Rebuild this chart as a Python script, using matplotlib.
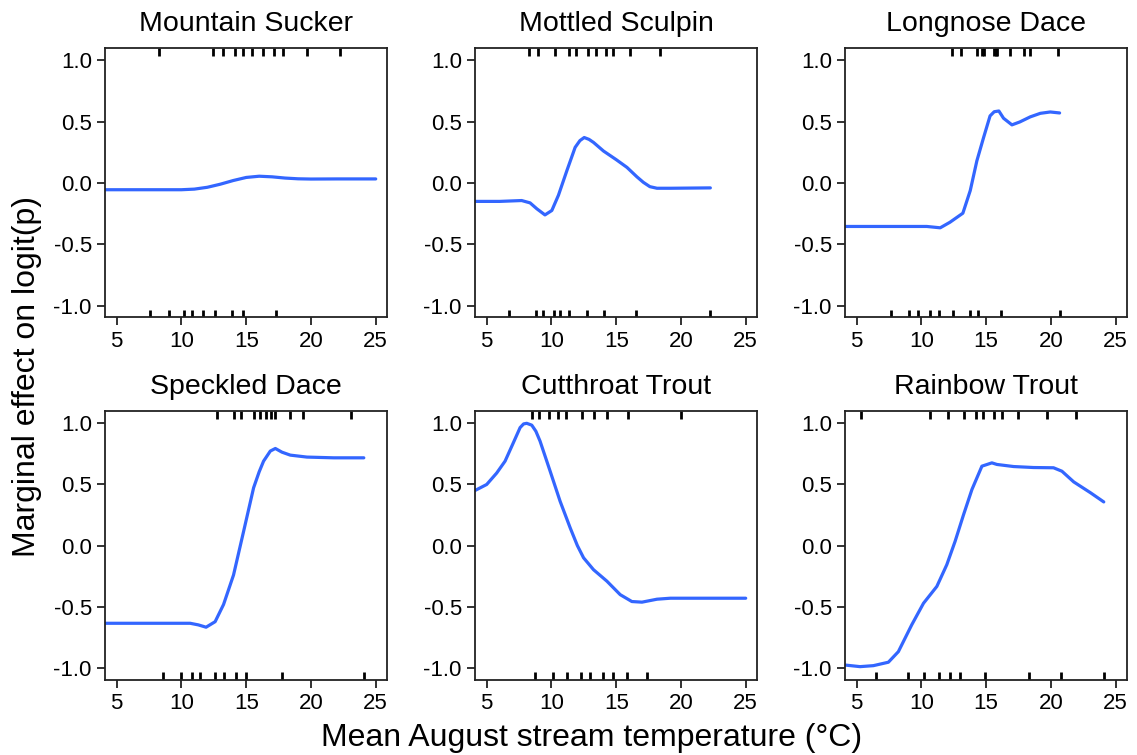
import matplotlib
matplotlib.use('Agg')
import matplotlib.pyplot as plt

plt.rcParams['font.family'] = ['Liberation Sans', 'DejaVu Sans']
plt.rcParams['axes.unicode_minus'] = False

# species shown, in panel order
species = ['Mountain Sucker', 'Mottled Sculpin', 'Longnose Dace',
           'Speckled Dace', 'Cutthroat Trout', 'Rainbow Trout']

# marginal effect curves (temperature, effect on logit(p))
sucker_x = [4.1, 6, 8, 10, 11, 12, 13, 14, 15, 16, 17, 18, 19, 20, 22, 25]
sucker_y = [-0.055, -0.055, -0.055, -0.055, -0.05, -0.035, -0.01, 0.02, 0.045,
            0.055, 0.05, 0.04, 0.034, 0.032, 0.033, 0.033]

sculpin_x = [4.1, 6, 7.7, 8.35, 8.87, 9.5, 10.03, 10.54, 11.19, 11.83, 12.2,
             12.53, 12.9, 13.25, 14.02, 15.0, 15.83, 16.6, 17.1, 17.6, 18.15,
             19.2, 22.27]
sculpin_y = [-0.15, -0.15, -0.143, -0.162, -0.21, -0.26, -0.224, -0.1, 0.1,
             0.29, 0.345, 0.37, 0.355, 0.33, 0.26, 0.19, 0.127, 0.05, 0.005,
             -0.03, -0.043, -0.043, -0.04]

dace_x = [4.1, 8, 10.41, 11.45, 12.2, 13.2, 13.77, 14.28, 14.8, 15.3, 15.62,
          15.98, 16.34, 16.99, 17.6, 18.4, 19.18, 19.95, 20.67]
dace_y = [-0.354, -0.354, -0.354, -0.365, -0.32, -0.246, -0.062, 0.18, 0.37,
          0.546, 0.58, 0.586, 0.527, 0.473, 0.497, 0.538, 0.567, 0.578, 0.57]

speckled_x = [4.1, 8, 10.67, 11.3, 11.9, 12.6, 13.25, 14.02, 14.8, 15.57, 16.0,
              16.34, 16.86, 17.25, 17.76, 18.4, 19.69, 21.76, 24.08]
speckled_y = [-0.633, -0.633, -0.633, -0.646, -0.665, -0.62, -0.48, -0.24,
              0.116, 0.47, 0.6, 0.687, 0.769, 0.79, 0.76, 0.736, 0.72, 0.714,
              0.714]

cutthroat_x = [4.1, 5, 5.77, 6.42, 7.06, 7.58, 7.85, 8.09, 8.48, 8.8, 9.12, 9.9,
               10.67, 11.45, 12.0, 12.48, 13.25, 14.28, 15.31, 16.21, 16.99,
               18.15, 19.18, 21.76, 25]
cutthroat_y = [0.448, 0.497, 0.59, 0.687, 0.837, 0.96, 0.99, 0.995, 0.98, 0.93,
               0.85, 0.605, 0.36, 0.143, 0.0, -0.1, -0.197, -0.29, -0.4, -0.456,
               -0.461, -0.437, -0.429, -0.429, -0.429]

rainbow_x = [4.1, 5.26, 6.29, 7.45, 8.22, 9.25, 10.16, 11.19, 11.96, 12.6, 13.25,
             13.9, 14.67, 15.44, 15.83, 17.12, 18.66, 20.2, 20.85, 21.76, 23.05,
             24.08]
rainbow_y = [-0.973, -0.986, -0.978, -0.95, -0.864, -0.646, -0.47, -0.333,
             -0.156, 0.034, 0.25, 0.456, 0.646, 0.673, 0.66, 0.643, 0.635,
             0.633, 0.605, 0.518, 0.43, 0.355]

# rug marks: sites where present (top) / absent (bottom)
sucker_top = [8.30, 12.42, 13.20, 14.15, 14.72, 15.44, 16.29, 17.14, 17.86, 19.69, 22.27]
sucker_bot = [7.58, 9.0, 10.16, 10.83, 11.65, 12.6, 13.89, 14.74, 17.30]
sculpin_top = [8.30, 9.0, 10.28, 11.39, 11.91, 12.79, 13.46, 14.23, 14.72, 16.09, 18.35]
sculpin_bot = [6.73, 8.82, 9.38, 10.16, 10.67, 11.39, 12.73, 14.02, 16.55, 22.27]
dace_top = [12.35, 13.04, 14.28, 14.67, 14.85, 15.62, 15.75, 15.83, 16.86, 17.89, 18.35, 20.52]
dace_bot = [7.63, 9.05, 9.72, 10.67, 11.34, 12.42, 13.77, 14.36, 16.11, 20.67]
speckled_top = [12.73, 14.02, 14.59, 15.62, 16.09, 16.52, 16.94, 17.24, 18.35, 19.36, 23.12]
speckled_bot = [8.61, 9.95, 10.8, 11.45, 12.6, 13.25, 14.2, 14.98, 17.76, 24.13]
cutthroat_top = [8.48, 9.05, 9.82, 10.49, 11.14, 12.35, 13.3, 14.28, 15.88, 20.03]
cutthroat_bot = [8.74, 10.1, 11.19, 12.3, 12.99, 13.97, 14.74, 15.83, 17.37]
rainbow_top = [5.31, 10.67, 12.09, 13.3, 14.23, 14.75, 15.62, 16.21, 17.45, 19.69, 21.96]
rainbow_bot = [6.47, 9.0, 10.23, 11.32, 12.22, 12.99, 14.93, 18.33, 20.78, 24.13]

panels = [
    (sucker_x, sucker_y, sucker_top, sucker_bot),
    (sculpin_x, sculpin_y, sculpin_top, sculpin_bot),
    (dace_x, dace_y, dace_top, dace_bot),
    (speckled_x, speckled_y, speckled_top, speckled_bot),
    (cutthroat_x, cutthroat_y, cutthroat_top, cutthroat_bot),
    (rainbow_x, rainbow_y, rainbow_top, rainbow_bot),
]

fig = plt.figure(figsize=(11.37, 7.55), dpi=100)
lefts = [0.0924, 0.4178, 0.7432]
bottoms = [0.5795, 0.0993]
w, h = 0.2483, 0.3563

for i, (name, (x, y, top, bot)) in enumerate(zip(species, panels)):
    ax = fig.add_axes([lefts[i % 3], bottoms[i // 3], w, h])
    ax.plot(x, y, color='#3366FF', lw=2.3, solid_capstyle='round',
            solid_joinstyle='round')
    tr = ax.get_xaxis_transform()
    ax.vlines(top, 0.971, 1.0, transform=tr, color='black', lw=2.0)
    ax.vlines(bot, 0.0, 0.029, transform=tr, color='black', lw=2.0)
    ax.set_xlim(4.1, 25.9)
    ax.set_ylim(-1.095, 1.095)
    ax.set_xticks([5, 10, 15, 20, 25])
    ax.set_yticks([-1.0, -0.5, 0.0, 0.5, 1.0])
    ax.set_yticklabels(['-1.0', '-0.5', '0.0', '0.5', '1.0'])
    ax.tick_params(length=5.5, width=1.3, color='#222222', labelsize=16,
                   labelcolor='black', pad=4)
    for s in ax.spines.values():
        s.set_linewidth(1.3)
        s.set_color('#222222')
    ax.set_title(name, fontsize=20.5, pad=12.5)

fig.text(0.52, 0.0119, 'Mean August stream temperature (°C)', fontsize=23,
         ha='center', va='baseline')
fig.text(0.0237, 0.501, 'Marginal effect on logit(p)', fontsize=23,
         rotation=90, ha='center', va='center')

fig.savefig('out.png', dpi=100)
